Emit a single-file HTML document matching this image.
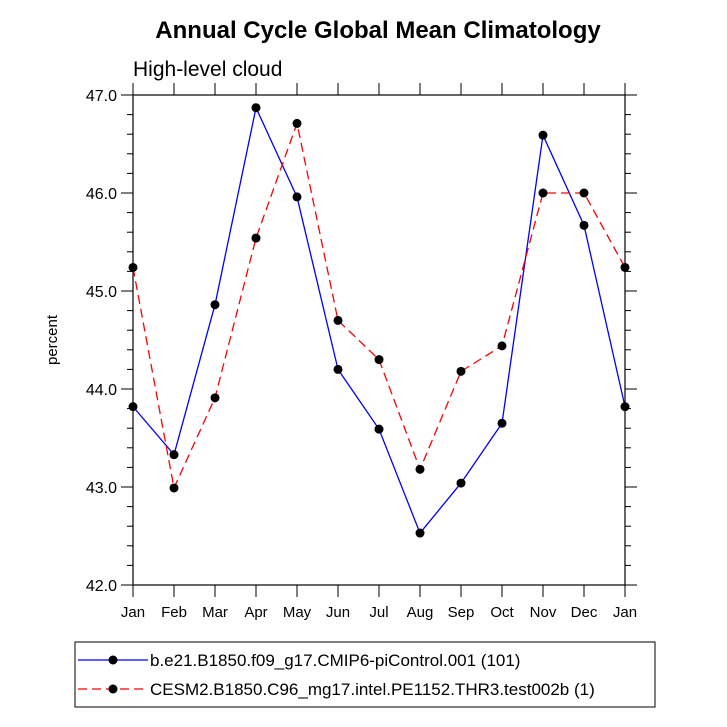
<!DOCTYPE html>
<html><head><meta charset="utf-8"><style>
body{margin:0;background:#fff;}
svg{display:block;font-family:"Liberation Sans",Arial,sans-serif;}
</style></head><body>
<svg id="c" width="727" height="727">
<text x="378" y="38" font-size="24" font-weight="bold" text-anchor="middle">Annual Cycle Global Mean Climatology</text>
<text x="133" y="76" font-size="21">High-level cloud</text>
<text x="0" y="0" font-size="15" text-anchor="middle" transform="translate(57,340) rotate(-90)">percent</text>
<g id="ax"></g>
<g id="series"></g>
<rect x="75" y="642" width="580" height="65" fill="none" stroke="#000" stroke-width="1"/>
<line x1="78" y1="660" x2="148" y2="660" stroke="#00f" stroke-width="1.3"/>
<circle cx="113" cy="660" r="4.5" fill="#000"/>
<text x="150" y="666" font-size="17">b.e21.B1850.f09_g17.CMIP6-piControl.001 (101)</text>
<line x1="78" y1="689" x2="148" y2="689" stroke="#f00" stroke-width="1.3" stroke-dasharray="9,5"/>
<circle cx="113" cy="689" r="4.5" fill="#000"/>
<text x="150" y="695" font-size="17">CESM2.B1850.C96_mg17.intel.PE1152.THR3.test002b (1)</text>
</svg>
<script>
const months=["Jan","Feb","Mar","Apr","May","Jun","Jul","Aug","Sep","Oct","Nov","Dec","Jan"];
const blueVals=[43.82,43.33,44.86,46.87,45.96,44.20,43.59,42.53,43.04,43.65,46.59,45.67,43.82];
const redVals=[45.24,42.99,43.91,45.54,46.71,44.70,44.30,43.18,44.18,44.44,46.00,46.00,45.24];
const yTicks=[42,43,44,45,46,47];
const X0=133,X1=625,Y0=585,Y1=95,ymin=42,ymax=47;
const xs=i=>X0+(X1-X0)*i/12;
const ys=v=>Y0-(Y0-Y1)*(v-ymin)/(ymax-ymin);
const NS="http://www.w3.org/2000/svg";
const ax=document.getElementById('ax'),sg=document.getElementById('series');
function mk(tag,attrs,parent){const e=document.createElementNS(NS,tag);for(const k in attrs)e.setAttribute(k,attrs[k]);parent.appendChild(e);return e;}
const fr=mk('rect',{x:X0,y:Y1,width:X1-X0,height:Y0-Y1,fill:'none',stroke:'#000','stroke-width':1.2},ax);


months.forEach((m,i)=>{
  const x=xs(i);
  const t1=mk('line',{x1:x,y1:Y0,x2:x,y2:Y0+12,stroke:'#000'},ax);
  
  
  const t2=mk('line',{x1:x,y1:Y1,x2:x,y2:Y1-12,stroke:'#000'},ax);
  
  
  const tx=mk('text',{x:x,y:Y0+32,'font-size':15,'text-anchor':'middle'},ax);
  tx.textContent=m;
  
  
});
for(let v=ymin;v<=ymax+1e-9;v+=0.2){
  const y=ys(v);const major=Math.abs(v-Math.round(v))<1e-6;const L=major?12:6;
  const a=mk('line',{x1:X0,y1:y,x2:X0-L,y2:y,stroke:'#000'},ax);
  
  
  const b=mk('line',{x1:X1,y1:y,x2:X1+L,y2:y,stroke:'#000'},ax);
  
  
}
yTicks.forEach(v=>{
  const t=mk('text',{x:X0-16,y:ys(v)+6,'font-size':16,'text-anchor':'end'},ax);
  t.textContent=v.toFixed(1);
  
  
});
function draw(vals,color,dash,name){
  const p=mk('polyline',{points:vals.map((v,i)=>xs(i)+','+ys(v)).join(' '),fill:'none',stroke:color,'stroke-width':1.3,'stroke-dasharray':dash},sg);
  
  
  vals.forEach((v,i)=>{
    const c=mk('circle',{cx:xs(i),cy:ys(v),r:4.5,fill:'#000'},sg);
    
    
  });
}
draw(blueVals,'#00f','none','blue-series');
draw(redVals,'#f00','9,5','red-series');
</script>
</body></html>
